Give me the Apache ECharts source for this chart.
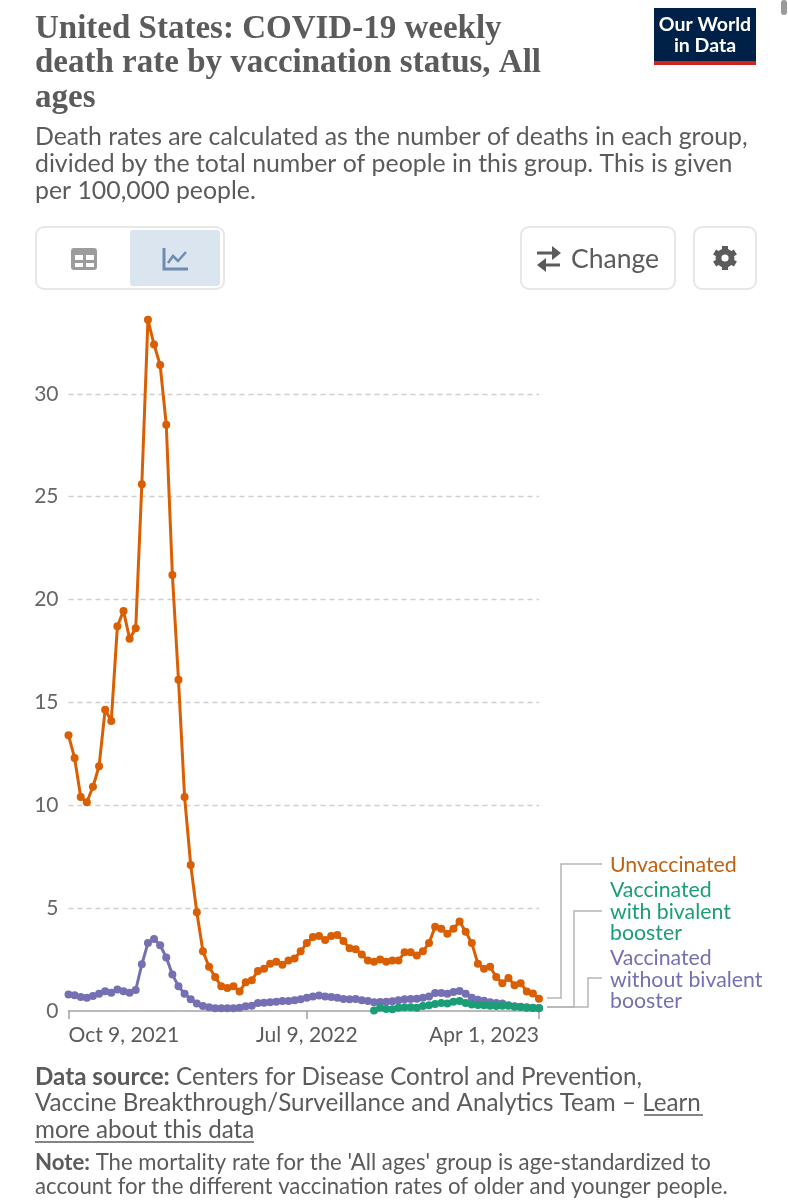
<!DOCTYPE html>
<html><head><meta charset="utf-8">
<style>html,body{margin:0;padding:0;background:#fff}#c{width:788px;height:1200px}</style>
<script src="https://cdn.jsdelivr.net/npm/echarts@6/dist/echarts.min.js"></script>
</head><body><div id="c"></div>
<script>
const weeks = ['Oct 9, 2021','Oct 16, 2021','Oct 23, 2021','Oct 30, 2021','Nov 6, 2021','Nov 13, 2021','Nov 20, 2021','Nov 27, 2021','Dec 4, 2021','Dec 11, 2021','Dec 18, 2021','Dec 25, 2021',
'Jan 1, 2022','Jan 8, 2022','Jan 15, 2022','Jan 22, 2022','Jan 29, 2022','Feb 5, 2022','Feb 12, 2022','Feb 19, 2022','Feb 26, 2022','Mar 5, 2022','Mar 12, 2022','Mar 19, 2022','Mar 26, 2022',
'Apr 2, 2022','Apr 9, 2022','Apr 16, 2022','Apr 23, 2022','Apr 30, 2022','May 7, 2022','May 14, 2022','May 21, 2022','May 28, 2022','Jun 4, 2022','Jun 11, 2022','Jun 18, 2022','Jun 25, 2022',
'Jul 2, 2022','Jul 9, 2022','Jul 16, 2022','Jul 23, 2022','Jul 30, 2022','Aug 6, 2022','Aug 13, 2022','Aug 20, 2022','Aug 27, 2022','Sep 3, 2022','Sep 10, 2022','Sep 17, 2022','Sep 24, 2022',
'Oct 1, 2022','Oct 8, 2022','Oct 15, 2022','Oct 22, 2022','Oct 29, 2022','Nov 5, 2022','Nov 12, 2022','Nov 19, 2022','Nov 26, 2022','Dec 3, 2022','Dec 10, 2022','Dec 17, 2022','Dec 24, 2022','Dec 31, 2022',
'Jan 7, 2023','Jan 14, 2023','Jan 21, 2023','Jan 28, 2023','Feb 4, 2023','Feb 11, 2023','Feb 18, 2023','Feb 25, 2023','Mar 4, 2023','Mar 11, 2023','Mar 18, 2023','Mar 25, 2023','Apr 1, 2023'];
const tickLabels = ['Oct 9, 2021','Jul 9, 2022','Apr 1, 2023'];
const unvaccinated = [13.4,12.3,10.4,10.15,10.9,11.9,14.65,14.1,18.7,19.45,18.1,18.6,25.6,33.6,32.4,31.4,28.5,21.2,16.1,10.4,7.1,4.8,2.9,2.15,1.65,1.2,1.12,1.2,0.95,1.4,1.5,1.95,2.05,2.3,2.4,2.25,2.45,2.55,2.9,3.3,3.6,3.65,3.45,3.65,3.7,3.4,3.05,3.0,2.75,2.45,2.4,2.5,2.4,2.45,2.45,2.85,2.85,2.7,2.9,3.3,4.1,4.0,3.75,4.0,4.35,3.85,3.3,2.3,2.05,2.15,1.65,1.35,1.6,1.25,1.35,0.95,0.85,0.6];
const withoutBivalent = [0.8,0.76,0.68,0.65,0.73,0.84,0.96,0.89,1.05,0.96,0.89,1.02,2.27,3.3,3.5,3.2,2.6,1.78,1.2,0.84,0.57,0.37,0.24,0.18,0.13,0.13,0.13,0.13,0.16,0.23,0.26,0.39,0.4,0.42,0.45,0.49,0.49,0.52,0.57,0.65,0.71,0.75,0.7,0.68,0.65,0.58,0.57,0.58,0.52,0.49,0.42,0.44,0.45,0.47,0.52,0.57,0.58,0.6,0.65,0.71,0.88,0.88,0.84,0.92,0.97,0.84,0.65,0.55,0.5,0.42,0.39,0.36,0.28,0.23,0.21,0.18,0.16,0.15];
const withBivalent = [null,null,null,null,null,null,null,null,null,null,null,null,null,null,null,null,null,null,null,null,null,null,null,null,null,null,null,null,null,null,null,null,null,null,null,null,null,null,null,null,null,null,null,null,null,null,null,null,null,null,0.02,0.16,0.1,0.08,0.16,0.18,0.18,0.16,0.24,0.28,0.34,0.39,0.37,0.45,0.49,0.39,0.32,0.29,0.28,0.26,0.24,0.26,0.26,0.21,0.19,0.16,0.15,0.13];
const yTicks = {min:0, max:35, step:5};

const ORANGE='#D95F02', GREEN='#1B9E77', PURPLE='#7570B3', GREY='#5b5b5b';
const BODY='Lato, sans-serif';
const TITLE='bold 33px "Liberation Serif", serif';

function txt(x,y,text,opt){
  return {type:'text',x,y,z:20,style:Object.assign({text,fill:GREY,font:'22px '+BODY,textVerticalAlign:'middle',textAlign:'left'},opt||{})};
}
function poly(points,stroke,w){
  return {type:'polyline',z:5,shape:{points},style:{stroke,lineWidth:w||1.5,fill:null}};
}
function fillPoly(points,fill){
  return {type:'polygon',z:5,shape:{points},style:{fill}};
}
function box(x,y,w,h,r,fill,stroke,lw){
  return {type:'rect',z:3,shape:{x,y,width:w,height:h,r},style:{fill:fill||'#fff',stroke:stroke||null,lineWidth:lw||0}};
}
const LEAD='#b5b5b5';
const graphic = [
  txt(35,29,'United States: COVID-19 weekly',{font:TITLE}),
  txt(35,63,'death rate by vaccination status, All',{font:TITLE}),
  txt(35,98,'ages',{font:TITLE}),
  txt(35,137,'Death rates are calculated as the number of deaths in each group,',{font:'24.85px '+BODY}),
  txt(35,164,'divided by the total number of people in this group. This is given',{font:'24.85px '+BODY}),
  txt(35,191,'per 100,000 people.',{font:'24.85px '+BODY}),
  // logo
  box(654,8,102,53,0,'#002147'),
  box(654,61,102,4,0,'#ce261e'),
  txt(705,25,'Our World',{font:'bold 19.5px '+BODY,fill:'#fff',textAlign:'center'}),
  txt(705,46,'in Data',{font:'bold 19.5px '+BODY,fill:'#fff',textAlign:'center'}),
  box(781,0,6,15,3,'#9a9a9a'),
  // controls
  box(36,227,188,62,8,'#fff','#e7e7e7',2),
  box(130,230,90,56,3,'#dbe5f0'),
  box(71,248,26,22,3,'#9c9c9c'),
  box(75,255,8,5,0,'#fff'),box(86,255,8,5,0,'#fff'),box(75,263,8,4,0,'#fff'),box(86,263,8,4,0,'#fff'),
  poly([[164,248],[164,269],[188,269]],'#6e8cb0',3),
  poly([[168,263],[173,256],[178,261],[186,252]],'#6e8cb0',2.5),
  box(521,227,154,62,8,'#fff','#e7e7e7',2),
  poly([[537,253],[553,253]],GREY,3),fillPoly([[552,246],[561,253],[552,260]],GREY),
  poly([[545,265],[560,265]],GREY,3),fillPoly([[546,258],[537,265],[546,272]],GREY),
  txt(571,259,'Change',{font:'26.5px '+BODY}),
  box(694,227,62,62,8,'#fff','#e7e7e7',2),
  // gear: ring plus six teeth
  {type:'circle',z:5,shape:{cx:725,cy:258,r:6.5},style:{fill:'none',stroke:GREY,lineWidth:6}},
  poly([[725,246],[725,270]],GREY,6),
  poly([[714.6,252],[735.4,264]],GREY,6),
  poly([[714.6,264],[735.4,252]],GREY,6),
  {type:'circle',z:6,shape:{cx:725,cy:258,r:3.6},style:{fill:'#fff'}},
  // leader lines
  poly([[547,998],[561,998],[561,864],[602,864]],LEAD),
  poly([[547,1007],[574,1007],[574,911],[602,911]],LEAD),
  poly([[547,1007],[588,1007],[588,978],[602,978]],LEAD),
  // series labels
  txt(610,865,'Unvaccinated',{font:'21.3px '+BODY,fill:'#C2600F'}),
  txt(610,890,'Vaccinated',{font:'21.3px '+BODY,fill:GREEN}),
  txt(610,912,'with bivalent',{font:'21.3px '+BODY,fill:GREEN}),
  txt(610,933,'booster',{font:'21.3px '+BODY,fill:GREEN}),
  txt(610,958,'Vaccinated',{font:'21.3px '+BODY,fill:PURPLE}),
  txt(610,980,'without bivalent',{font:'21.3px '+BODY,fill:PURPLE}),
  txt(610,1001,'booster',{font:'21.3px '+BODY,fill:PURPLE}),
  // footer
  {type:'text',x:35,y:1077,z:20,style:{text:'{b|Data source:} Centers for Disease Control and Prevention,',textVerticalAlign:'middle',fill:GREY,font:'24.2px '+BODY,rich:{b:{font:'bold 24.2px '+BODY,fill:GREY}}}},
  txt(35,1103,'Vaccine Breakthrough/Surveillance and Analytics Team \u2013 Learn',{font:'24.2px '+BODY}),
  txt(35,1130,'more about this data',{font:'24.2px '+BODY}),
  poly([[644,1115],[703,1115]],GREY,1.5),
  poly([[35,1142],[254,1142]],GREY,1.5),
  {type:'text',x:35,y:1163,z:20,style:{text:"{b|Note:} The mortality rate for the 'All ages' group is age-standardized to",textVerticalAlign:'middle',fill:GREY,font:'22.2px '+BODY,rich:{b:{font:'bold 22.2px '+BODY,fill:GREY}}}},
  txt(35,1187,'account for the different vaccination rates of older and younger people.',{font:'22.2px '+BODY})
];

function lineSeries(name,data,color,z){
  return {name,type:'line',data,z,clip:false,connectNulls:false,showSymbol:true,showAllSymbol:true,symbol:'circle',symbolSize:8,
    lineStyle:{color,width:3},itemStyle:{color}};
}
const chart = echarts.init(document.getElementById('c'),null,{renderer:'canvas'});
chart.setOption({
  animation:false,
  backgroundColor:'#fff',
  grid:{left:68.5,right:249,top:291,bottom:189,containLabel:false},
  xAxis:{type:'category',data:weeks,boundaryGap:false,
    axisLine:{show:true,lineStyle:{color:'#a3a3a3',width:1.5}},
    axisTick:{show:true,length:8,lineStyle:{color:'#a3a3a3',width:1.5},alignWithLabel:true,interval:(i,v)=>tickLabels.includes(v)},
    axisLabel:{show:true,interval:(i,v)=>tickLabels.includes(v),color:GREY,fontFamily:'Lato',fontSize:21,margin:14,alignMinLabel:'left',alignMaxLabel:'right'},
    splitLine:{show:false}},
  yAxis:{type:'value',min:yTicks.min,max:yTicks.max,interval:yTicks.step,
    axisLine:{show:false},axisTick:{show:false},
    axisLabel:{color:'#666',fontFamily:'Lato',fontSize:21,margin:10,showMaxLabel:false},
    splitLine:{show:true,showMaxLine:false,showMinLine:false,lineStyle:{color:'#cfcfcf',type:[5,4],width:1.4}}},
  series:[
    lineSeries('Unvaccinated',unvaccinated,ORANGE,2),
    lineSeries('Vaccinated without bivalent booster',withoutBivalent,PURPLE,3),
    lineSeries('Vaccinated with bivalent booster',withBivalent,GREEN,4)
  ],
  graphic:{elements:graphic}
});
</script></body></html>
